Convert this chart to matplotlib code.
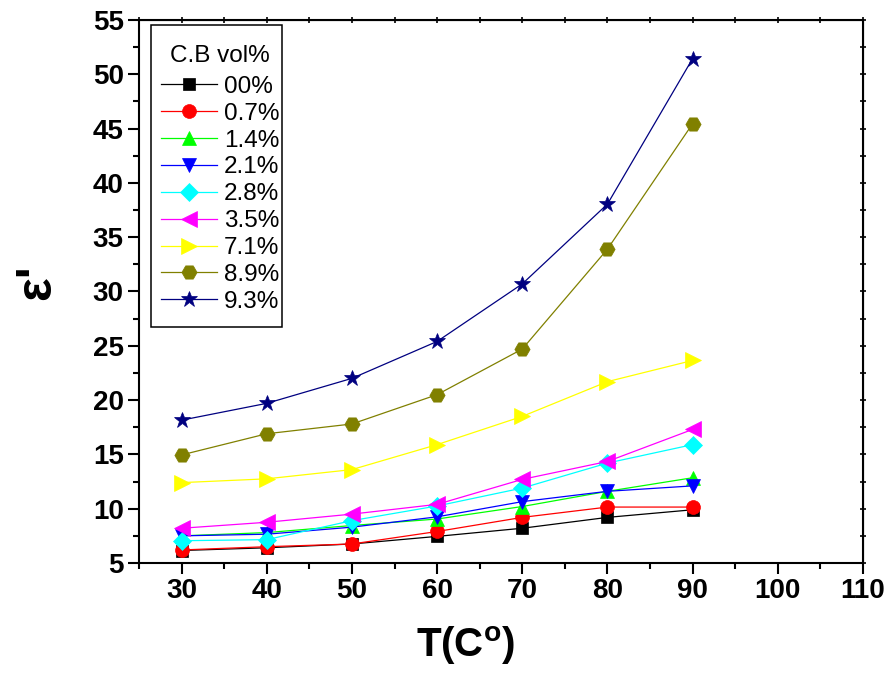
import numpy as np
import matplotlib
matplotlib.use('Agg')
import matplotlib.pyplot as plt
from matplotlib.ticker import MultipleLocator
from matplotlib.patches import Rectangle

plt.rcParams['font.family'] = ['Liberation Sans', 'DejaVu Sans']

temps = [30, 40, 50, 60, 70, 80, 90]

labels = ['00%', '0.7%', '1.4%', '2.1%', '2.8%', '3.5%', '7.1%', '8.9%', '9.3%']

eps_00 = [6.15, 6.4, 6.75, 7.45, 8.2, 9.2, 9.9]
eps_07 = [6.2, 6.5, 6.75, 7.9, 9.2, 10.15, 10.15]
eps_14 = [7.5, 7.8, 8.45, 9.05, 10.2, 11.6, 12.85]
eps_21 = [7.5, 7.65, 8.3, 9.25, 10.65, 11.6, 12.1]
eps_28 = [7.05, 7.15, 8.9, 10.25, 11.9, 14.2, 15.9]
eps_35 = [8.2, 8.75, 9.5, 10.4, 12.7, 14.35, 17.3]
eps_71 = [12.4, 12.75, 13.6, 15.9, 18.5, 21.7, 23.65]
eps_89 = [14.95, 16.9, 17.8, 20.5, 24.7, 33.9, 45.45]
eps_93 = [18.15, 19.7, 22.0, 25.4, 30.7, 38.05, 51.45]

series = [eps_00, eps_07, eps_14, eps_21, eps_28, eps_35, eps_71, eps_89, eps_93]
colors = ['black', 'red', '#00ff00', 'blue', 'cyan', 'magenta', 'yellow', '#808000', '#000080']
markers = ['s', 'o', '^', 'v', 'D', '<', '>', 'H', '*']
msizes = [9, 10, 10, 10, 9, 11, 11, 11, 12]

fig = plt.figure(figsize=(8.92, 6.77), dpi=100)
ax = fig.add_axes([0.1558, 0.1684, 0.8117, 0.8021])

for vals, c, m, ms, lab in zip(series, colors, markers, msizes, labels):
    ax.plot(temps, vals, color=c, marker=m, markersize=ms, markeredgecolor=c,
            markeredgewidth=0.5, linewidth=0.9, label=lab)

ax.set_xlim(25, 110)
ax.set_ylim(5, 55)
ax.set_xticks(np.arange(30, 111, 10))
ax.xaxis.set_minor_locator(MultipleLocator(5))
ax.yaxis.set_major_locator(MultipleLocator(5))
ax.yaxis.set_minor_locator(MultipleLocator(2.5))

ax.tick_params(which='both', direction='out', width=1.5)
ax.tick_params(which='major', length=8, labelsize=20, pad=3)
ax.tick_params(which='minor', length=4.5)
for lbl in ax.get_xticklabels() + ax.get_yticklabels():
    lbl.set_fontweight('bold')
for sp in ax.spines.values():
    sp.set_linewidth(1.5)

# short mirrored ticks on top and right
top = ax.secondary_xaxis('top')
top.set_xticks(np.arange(30, 111, 10))
top.xaxis.set_minor_locator(MultipleLocator(5))
top.tick_params(which='both', direction='inout', length=4, width=1.2, labeltop=False)
right = ax.secondary_yaxis('right')
right.yaxis.set_major_locator(MultipleLocator(5))
right.yaxis.set_minor_locator(MultipleLocator(2.5))
right.tick_params(which='both', direction='inout', length=4, width=1.2, labelright=False)

fig.text(466 / 892, 1 - 657 / 677, r'T(C$^\mathregular{o}$)', fontsize=29,
         fontweight='bold', ha='center', va='baseline')
fig.text(37 / 892, 1 - 282 / 677, "ε'", fontsize=36, fontweight='bold',
         rotation=90, ha='center', va='center')

leg = ax.legend(title='C.B vol%', loc='upper left', bbox_to_anchor=(0.0304, 0.953),
                fontsize=17.5, title_fontsize=17.5, frameon=False,
                handlelength=2.3, handletextpad=0.29, labelspacing=0.2,
                borderpad=0, borderaxespad=0)
leg._legend_box.sep = 6
ax.add_patch(Rectangle((0.0166, 0.4346), 0.1809, 0.5562, transform=ax.transAxes,
                       fill=False, edgecolor='black', linewidth=1.1, zorder=5))

plt.savefig('out.png', dpi=100)
